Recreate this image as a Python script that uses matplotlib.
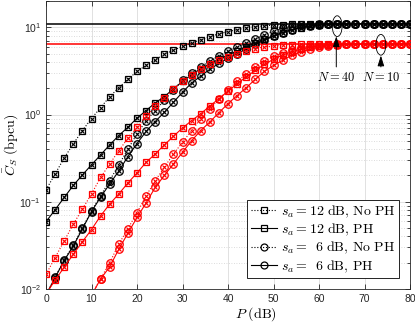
import numpy as np
import matplotlib
matplotlib.use("Agg")
from matplotlib import pyplot as plt
from matplotlib.lines import Line2D
from matplotlib.patches import Ellipse
from matplotlib.font_manager import FontProperties

plt.rcParams['font.family'] = ['Liberation Sans', 'DejaVu Sans']
plt.rcParams['mathtext.fontset'] = 'custom'
plt.rcParams['mathtext.rm'] = 'Liberation Sans'
plt.rcParams['mathtext.it'] = 'Liberation Sans:italic'
plt.rcParams['mathtext.bf'] = 'Liberation Sans:bold'

nan = np.nan
P = np.arange(0, 81, 2)

# N = 40 (black)
n40_12_noph = [0.137, 0.208, 0.318, 0.46, 0.655, 0.90, 1.20, 1.60, 2.03, 2.53,
               3.12, 3.66, 4.25, 4.9, 5.45, 6.05, 6.62, 7.2, 7.8, 8.4,
               8.9, 9.4, 9.8, 10.15, 10.4, 10.6, 10.75, 10.85, 10.9, 10.95,
               10.97, 10.98, 10.99, 11.0, 11.0, 11.0, 11.0, 11.0, 11.0, 11.0,
               11.0]
n40_12_ph = [0.059, 0.081, 0.112, 0.154, 0.203, 0.265, 0.344, 0.449, 0.574, 0.715,
             0.908, 1.11, 1.36, 1.6, 1.97, 2.39, 2.86, 3.35, 3.82, 4.3,
             4.8, 5.35, 5.95, 6.6, 7.3, 8.0, 8.7, 9.35, 9.9, 10.3,
             10.6, 10.78, 10.88, 10.94, 10.97, 10.99, 11.0, 11.0, 11.0, 11.0,
             11.0]
n40_6_noph = [0.0085, 0.0137, 0.0215, 0.032, 0.05, 0.079, 0.117, 0.175, 0.265, 0.40,
              0.60, 0.85, 1.11, 1.45, 1.9, 2.46, 3.0, 3.5, 4.1, 4.7,
              5.3, 5.95, 6.55, 7.35, 8.15, 9.0, 9.75, 10.25, 10.55, 10.75,
              10.87, 10.93, 10.97, 10.99, 11.0, 11.0, 11.0, 11.0, 11.0, 11.0,
              11.0]
n40_6_ph = [0.0085, 0.0135, 0.0212, 0.031, 0.049, 0.077, 0.113, 0.16, 0.225, 0.33,
            0.465, 0.64, 0.83, 1.06, 1.38, 1.8, 2.3, 2.75, 3.3, 3.85,
            4.4, 5.0, 5.65, 6.35, 7.1, 7.9, 8.7, 9.4, 9.95, 10.35,
            10.6, 10.78, 10.88, 10.94, 10.97, 10.99, 11.0, 11.0, 11.0, 11.0,
            11.0]

# N = 10 (red)
n10_12_noph = [0.0147, 0.0229, 0.0356, 0.0554, 0.0824, 0.123, 0.19, 0.271, 0.386, 0.534,
               0.715, 0.957, 1.24, 1.54, 1.95, 2.4, 2.85, 3.3, 3.75, 4.2,
               4.6, 5.0, 5.4, 5.7, 5.95, 6.1, 6.22, 6.3, 6.36, 6.4,
               6.42, 6.44, 6.45, 6.45, 6.45, 6.45, 6.45, 6.45, 6.45, 6.45,
               6.45]
n10_12_ph = [0.0088, 0.0126, 0.0178, 0.025, 0.0348, 0.048, 0.069, 0.094, 0.123, 0.164,
             0.214, 0.283, 0.353, 0.448, 0.563, 0.70, 0.85, 1.02, 1.25, 1.52,
             1.85, 2.25, 2.7, 3.2, 3.75, 4.3, 4.8, 5.25, 5.6, 5.9,
             6.1, 6.25, 6.33, 6.38, 6.41, 6.43, 6.44, 6.45, 6.45, 6.45,
             6.45]
n10_6_noph = [nan, nan, nan, nan, nan, 0.0085, 0.0131, 0.020, 0.0327, 0.049,
              0.075, 0.117, 0.174, 0.248, 0.353, 0.48, 0.655, 0.89, 1.17, 1.5,
              1.9, 2.4, 2.9, 3.5, 4.1, 4.65, 5.1, 5.5, 5.85, 6.05,
              6.2, 6.3, 6.36, 6.4, 6.42, 6.44, 6.45, 6.45, 6.45, 6.45,
              6.45]
n10_6_ph = [nan, nan, nan, nan, nan, 0.0085, 0.013, 0.018, 0.0286, 0.0436,
            0.066, 0.097, 0.146, 0.20, 0.271, 0.369, 0.50, 0.655, 0.82, 1.05,
            1.33, 1.65, 2.03, 2.53, 3.12, 3.66, 4.17, 4.77, 5.2, 5.6,
            5.9, 6.15, 6.28, 6.35, 6.4, 6.42, 6.44, 6.45, 6.45, 6.45,
            6.45]

# asymptotic bounds
bound_n40 = 11.0
bound_n10 = 6.45

legend_labels = [r'$s_a = 12\ \mathrm{dB,\,No\ PH}$',
                 r'$s_a = 12\ \mathrm{dB,\,PH}$',
                 r'$s_a = \enspace6\ \mathrm{dB,\,No\ PH}$',
                 r'$s_a = \enspace6\ \mathrm{dB,\,PH}$']

dotted = (0, (1, 1.6))
cm_font = FontProperties(size=10, math_fontfamily='cm')

fig = plt.figure(figsize=(4.15, 3.25), dpi=100)
ax = fig.add_axes([46 / 415, 1 - 289 / 325, 364 / 415, 288 / 325])

ax.axhline(bound_n40, color='k', lw=1.1, zorder=2)
ax.axhline(bound_n10, color='r', lw=1.1, zorder=2)

curves = [
    (n40_12_noph, 'k', dotted, 's'),
    (n40_12_ph, 'k', '-', 's'),
    (n40_6_noph, 'k', dotted, 'o'),
    (n40_6_ph, 'k', '-', 'o'),
    (n10_12_noph, 'r', dotted, 's'),
    (n10_12_ph, 'r', '-', 's'),
    (n10_6_noph, 'r', dotted, 'o'),
    (n10_6_ph, 'r', '-', 'o'),
]
for vals, col, ls, mk in curves:
    ms = 4.6 if mk == 's' else 5.4
    ax.plot(P, vals, color=col, linestyle=ls, lw=0.8, marker=mk, ms=ms,
            mfc='none', mec=col, mew=0.9, zorder=3)
    ax.plot(P, vals, color=col, linestyle='none', marker='x', ms=3.0,
            mew=0.8, zorder=3)

ax.set_yscale('log')
ax.set_xlim(0, 80)
ax.set_ylim(1e-2, 20)
ax.set_xticks(np.arange(0, 81, 10))

ax.grid(True, which='major', color='#dcdcdc', lw=0.6, zorder=0)
ax.grid(True, which='minor', axis='y', color='#d0d0d0', lw=0.6,
        linestyle=(0, (1, 2)), zorder=0)
ax.set_axisbelow(True)
ax.tick_params(which='both', direction='in', top=True, right=True,
               labelsize=7.5, colors='#262626', width=0.6)
ax.tick_params(which='major', length=3.5)
ax.tick_params(which='minor', length=2)
for sp in ax.spines.values():
    sp.set_linewidth(0.6)
    sp.set_color('#262626')

ax.set_xlabel(r'$P\ \mathrm{(dB)}$',
              fontproperties=FontProperties(size=10, math_fontfamily='cm'))
ax.xaxis.set_label_coords((256 - 46) / 364, -0.055)
ax.set_ylabel(r'$\bar{C}_S\ \mathrm{(bpcu)}$',
              fontproperties=FontProperties(size=10, math_fontfamily='cm'))
ax.yaxis.set_label_coords(-0.072, 0.5)

# convergence markers
to_axes = ax.transData + ax.transAxes.inverted()
for px, py in [(64, 10.3), (73.6, 6.3)]:
    cx, cy = to_axes.transform((px, py))
    ax.add_patch(Ellipse((cx, cy), 0.027, 0.072, transform=ax.transAxes,
                         fill=False, ec='k', lw=0.6, zorder=5))

for label, px, tip in [(r'$N = 40$', 63.8, 7.9), (r'$N = 10$', 73.6, 4.75)]:
    ax.annotate(label, xy=(px, tip), xytext=(px, 2.65), ha='center', va='center',
                fontproperties=FontProperties(size=9, math_fontfamily='cm'),
                arrowprops=dict(arrowstyle='-|>,head_length=0.7,head_width=0.22',
                                color='k', lw=0.7, shrinkA=1, shrinkB=0),
                zorder=6)

handles = [Line2D([], [], color='k', linestyle=dotted, lw=0.8, marker='s', ms=4.6,
                  mfc='none', mew=0.9),
           Line2D([], [], color='k', linestyle='-', lw=0.8, marker='s', ms=4.6,
                  mfc='none', mew=0.9),
           Line2D([], [], color='k', linestyle=dotted, lw=0.8, marker='o', ms=5.0,
                  mfc='none', mew=0.9),
           Line2D([], [], color='k', linestyle='-', lw=0.8, marker='o', ms=5.0,
                  mfc='none', mew=0.9)]
leg = ax.legend(handles, legend_labels, loc='lower right',
                bbox_to_anchor=((399 - 46) / 364, (289 - 278) / 288),
                borderaxespad=0, prop=cm_font, handlelength=1.9,
                handletextpad=0.25, labelspacing=0.15, borderpad=0.25,
                fancybox=False, framealpha=1, edgecolor='k')
leg.get_frame().set_linewidth(0.6)

fig.savefig("out.png", dpi=100)
